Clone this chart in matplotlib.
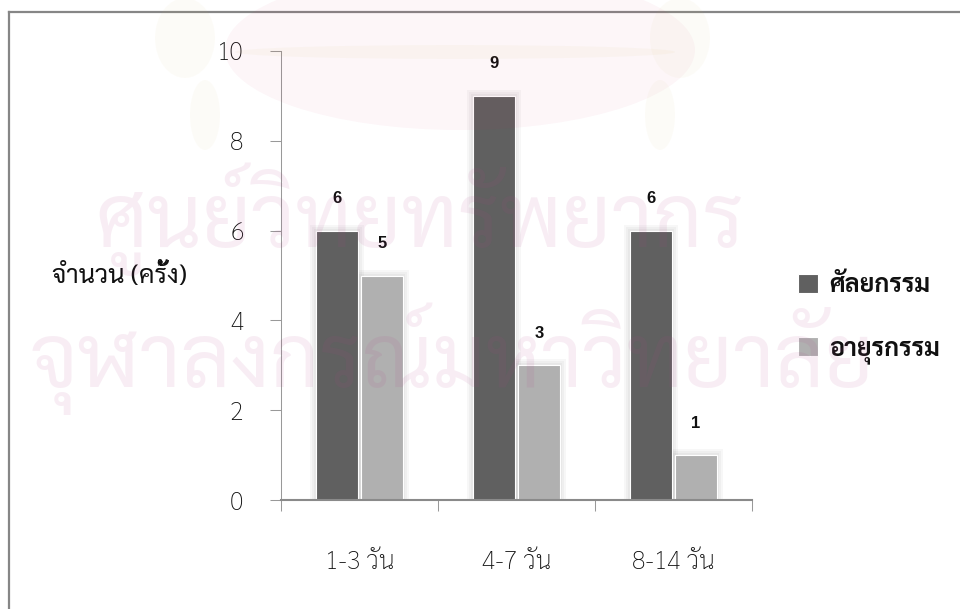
import numpy as np
import matplotlib
matplotlib.use("Agg")
import matplotlib.pyplot as plt
from matplotlib.lines import Line2D
from matplotlib.patches import Ellipse

# ---- data -------------------------------------------------------------
categories = ["1-3 วัน", "4-7 วัน", "8-14 วัน"]
series_names = ["ศัลยกรรม", "อายุรกรรม"]
surgery = [6, 9, 6]
medicine = [5, 3, 1]
y_ticks = [0, 2, 4, 6, 8, 10]
y_label = "จำนวน (ครั้ง)"

# ---- style ------------------------------------------------------------
THAI = ["Sarabun", "Noto Sans Thai", "Anuphan", "DejaVu Sans"]
plt.rcParams["font.family"] = THAI
DARK = "#606060"
LIGHT = "#b0b0b0"
AXIS = "#999999"

W, H = 960, 609
fig = plt.figure(figsize=(W / 100, H / 100), dpi=100)
fig.patch.set_facecolor("white")


def fx(px):
    return px / W


def fy(py):
    return 1 - py / H


# plot area
ax = fig.add_axes([fx(281), fy(500), fx(752) - fx(281), fy(51) - fy(500)])
ax.set_xlim(0, len(categories))
ax.set_ylim(0, 10)
ax.patch.set_alpha(0)

for s in ("top", "right"):
    ax.spines[s].set_visible(False)
ax.spines["left"].set_color(AXIS)
ax.spines["left"].set_linewidth(0.75)
ax.spines["bottom"].set_color("#8a8a8a")
ax.spines["bottom"].set_linewidth(1.5)

ax.set_yticks(y_ticks)
ax.set_yticklabels([str(t) for t in y_ticks])
ax.tick_params(axis="y", direction="out", length=8, width=0.75, color=AXIS,
               pad=19, labelsize=18, labelcolor="#111111")
for lab in ax.get_yticklabels():
    lab.set_fontweight("light")

xc = np.arange(len(categories)) + 0.5
ax.set_xticks(np.arange(len(categories) + 1))
ax.set_xticklabels([])
ax.tick_params(axis="x", which="major", direction="out", length=8,
               width=0.75, color=AXIS)
ax.set_xticks(xc, minor=True)
ax.set_xticklabels(categories, minor=True)
ax.tick_params(axis="x", which="minor", length=0, pad=36, labelsize=18,
               labelcolor="#111111")
for lab in ax.get_xticklabels(minor=True):
    lab.set_fontweight("light")

# bars with a soft glow behind them
bw = 0.268
off = 0.143
px_x = (fx(752) - fx(281)) * W / len(categories)   # pixels per category
px_y = (fy(51) - fy(500)) * H / 10                  # pixels per unit
for vals, dx in ((surgery, -off), (medicine, off)):
    for e in (2, 4, 6):
        ax.bar(xc + dx, np.array(vals) + e / px_y, width=bw + 2 * e / px_x,
               color="black", alpha=0.03, linewidth=0, zorder=1)

b1 = ax.bar(xc - off, surgery, width=bw, color=DARK, edgecolor="white",
            linewidth=0.8, zorder=2, label=series_names[0])
b2 = ax.bar(xc + off, medicine, width=bw, color=LIGHT, edgecolor="white",
            linewidth=0.8, zorder=2, label=series_names[1])

# value labels above bars
lab_gap = 32 / px_y
for bars, vals in ((b1, surgery), (b2, medicine)):
    for rect, v in zip(bars, vals):
        ax.text(rect.get_x() + rect.get_width() / 2, v + lab_gap, str(v),
                ha="center", va="center", fontsize=12, fontweight="bold",
                family=["Liberation Sans", "DejaVu Sans"], color="#111111",
                zorder=3)

# y-axis title
fig.text(fx(119), fy(276), y_label, ha="center", va="center", fontsize=18.5,
         color="#111111")

# legend
leg = ax.legend(handles=[b1, b2], loc="upper left",
                bbox_to_anchor=(fx(798), fy(274)),
                bbox_transform=fig.transFigure, frameon=False, borderpad=0,
                borderaxespad=0, handlelength=0.78, handleheight=0.78,
                handletextpad=0.45, labelspacing=1.55,
                prop={"size": 18, "weight": "bold"})
for t in leg.get_texts():
    t.set_color("#111111")

# outer frame (left and top edges)
fig.add_artist(Line2D([fx(9), fx(9)], [0, fy(12)], transform=fig.transFigure,
                      color="#868686", linewidth=1.6))
fig.add_artist(Line2D([fx(9), 1], [fy(12), fy(12)], transform=fig.transFigure,
                      color="#868686", linewidth=1.6))

# faint watermark: emblem and institution name
PINK = (0.85, 0.1, 0.35)
CREAM = (0.8, 0.72, 0.35)


def blob(cx, cy, w, h, color, alpha):
    fig.add_artist(Ellipse((fx(cx), fy(cy)), fx(w), h / H, color=color,
                           alpha=alpha, linewidth=0, transform=fig.transFigure,
                           zorder=5))


blob(460, 50, 470, 160, PINK, 0.04)
blob(455, 52, 440, 14, CREAM, 0.05)
blob(185, 38, 60, 80, CREAM, 0.045)
blob(205, 115, 30, 70, CREAM, 0.045)
blob(680, 38, 60, 80, CREAM, 0.045)
blob(660, 115, 30, 70, CREAM, 0.045)

wm = dict(ha="center", va="baseline", fontsize=62, color=(0.7, 0.25, 0.55),
          alpha=0.09, zorder=6, family=THAI)
fig.text(fx(420), fy(247), "ศูนย์วิทยทรัพยากร", **wm)
fig.text(fx(452), fy(387), "จุฬาลงกรณ์มหาวิทยาลัย", **wm)

fig.savefig("out.png", dpi=100)
